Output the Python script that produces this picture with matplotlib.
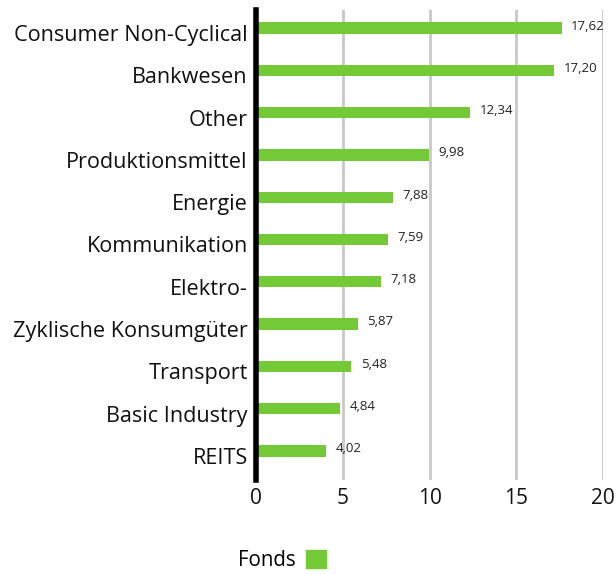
import numpy as np
import matplotlib.pyplot as plt
import matplotlib.transforms as mtransforms
from matplotlib.patches import Patch

# Daten
categories = ['Consumer Non-Cyclical', 'Bankwesen', 'Other', 'Produktionsmittel',
              'Energie', 'Kommunikation', 'Elektro-', 'Zyklische Konsumgüter',
              'Transport', 'Basic Industry', 'REITS']
values = [17.62, 17.20, 12.34, 9.98, 7.88, 7.59, 7.18, 5.87, 5.48, 4.84, 4.02]
value_labels = ['17,62', '17,20', '12,34', '9,98', '7,88', '7,59', '7,18',
                '5,87', '5,48', '4,84', '4,02']
series_name = 'Fonds'
green = '#74c936'

plt.rcParams['font.family'] = ['Open Sans', 'DejaVu Sans']

fig = plt.figure(figsize=(6.16, 5.74), dpi=100)
ax = fig.add_axes([0.4156, 0.1638, 0.5633, 0.8188])

y = np.arange(len(categories))
ax.barh(y, values, height=0.27, color=green, zorder=3)

for yi, v, lab in zip(y, values, value_labels):
    ax.text(v + 0.55, yi - 0.05, lab, va='center', ha='left', fontsize=9.5, color='#222222')

ax.set_xlim(0, 20)
ax.set_ylim(10.69, -0.43)
ax.set_yticks(y)
ax.set_yticklabels(categories, fontsize=15.6, color='#111111')
ax.set_xticks([0, 5, 10, 15, 20])
ax.set_xticklabels(['0', '5', '10', '15', '20'], fontsize=15, color='#111111')
ax.tick_params(axis='both', length=0)
ax.tick_params(axis='y', pad=6)
ax.tick_params(axis='x', pad=6)

# Beschriftungen leicht nach unten versetzen
shift = mtransforms.ScaledTranslation(0, -5 / 100, fig.dpi_scale_trans)
for lbl in ax.get_yticklabels():
    lbl.set_transform(lbl.get_transform() + shift)

ax.grid(axis='x', color='#c8c8c8', linewidth=2, zorder=0)
for s in ['top', 'right', 'bottom']:
    ax.spines[s].set_visible(False)
ax.spines['left'].set_linewidth(4)
ax.spines['left'].set_color('black')
ax.spines['left'].set_zorder(4)

fig.legend(handles=[Patch(color=green, label=series_name)], loc='center',
           bbox_to_anchor=(0.458, 0.024), frameon=False, markerfirst=False,
           fontsize=14.8, handlelength=1.0, handleheight=1.0, handletextpad=0.5)

fig.savefig('out.png', dpi=100)
